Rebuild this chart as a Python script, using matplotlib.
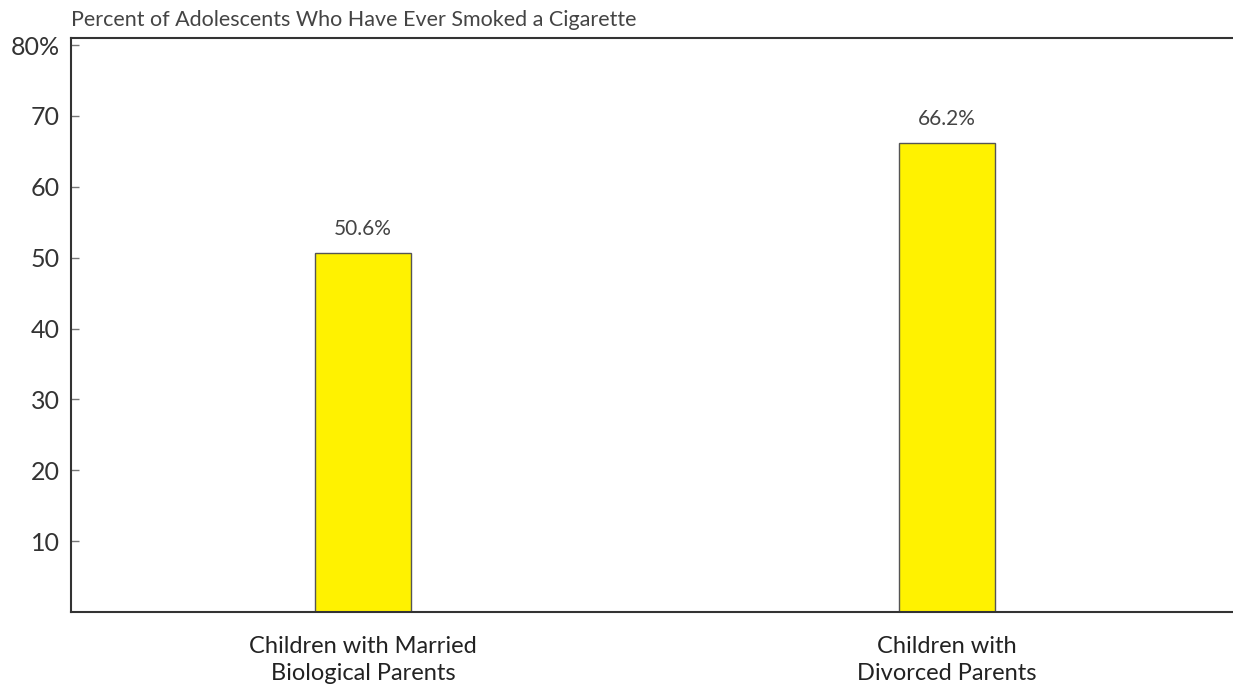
import matplotlib
matplotlib.use("Agg")
import matplotlib.pyplot as plt

categories = ["Children with Married\nBiological Parents", "Children with\nDivorced Parents"]
values = [50.6, 66.2]
value_labels = ["50.6%", "66.2%"]
yticks = [10, 20, 30, 40, 50, 60, 70, 80]
ytick_labels = ["10", "20", "30", "40", "50", "60", "70", "80%"]
title = "Percent of Adolescents Who Have Ever Smoked a Cigarette"

plt.rcParams['font.family'] = ['Lato', 'DejaVu Sans']

W, H = 1233, 687
fig = plt.figure(figsize=(W/100, H/100), dpi=100)
left, right, top, bottom = 71, 1239, 38, 612
ax = fig.add_axes([left/W, 1-bottom/H, (right-left)/W, (bottom-top)/H])

x = list(range(len(categories)))
ax.bar(x, values, width=0.166, color="#FFF200", edgecolor="#555555", linewidth=1)
for xi, v, lab in zip(x, values, value_labels):
    ax.text(xi, v + 2.0, lab, ha="center", va="bottom", fontsize=15, color="#444444")

ax.set_xlim(-0.5, 1.5)
ax.set_ylim(0, 81)
ax.set_yticks(yticks)
ax.set_yticklabels(ytick_labels, fontsize=18, color="#333333")
ax.set_xticks(x)
ax.set_xticklabels(categories, fontsize=17, color="#222222", linespacing=1.35)
ax.tick_params(axis="y", direction="in", length=6, width=1, color="#777777", pad=8)
ax.tick_params(axis="x", length=0, pad=17)
for s in ax.spines.values():
    s.set_color("#333333")
    s.set_linewidth(1.5)

fig.text(left/W, 1-20/H, title, ha="left", va="center", fontsize=15.5, color="#444444")

fig.savefig("out.png", dpi=100)
